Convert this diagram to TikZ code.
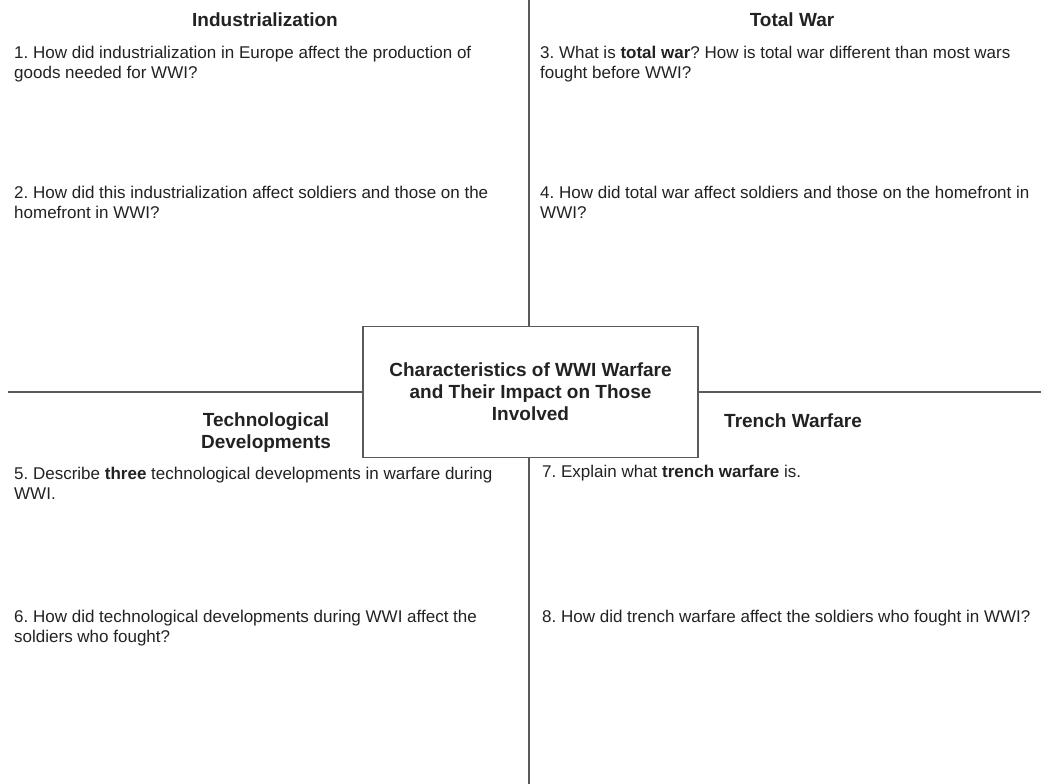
\documentclass[tikz,border=0pt]{standalone}
\usepackage{fontspec}
\setmainfont{Liberation Sans}
\frenchspacing
\definecolor{txt}{HTML}{222222}
\definecolor{rule}{HTML}{5A5A5A}
\tikzset{
  head/.style={font=\fontsize{19}{22}\selectfont\bfseries, text=txt, inner sep=0pt, align=center},
  question/.style={font=\fontsize{17}{19.5}\selectfont, text=txt, inner sep=0pt, align=left, anchor=north west},
  divider/.style={draw=rule, line width=1.4pt},
  centerbox/.style={draw=rule, line width=1.4pt, fill=white, minimum width=335pt, minimum height=131pt,
     font=\fontsize{19}{22}\selectfont\bfseries, text=txt, align=center, inner sep=0pt}
}
\begin{document}
\begin{tikzpicture}[x=1pt,y=-1pt]
\useasboundingbox[fill=white] (0,0) rectangle (1041,784);
% center box
\node[centerbox] (box) at (530.5,392) {Characteristics of WWI Warfare\\and Their Impact on Those\\Involved};
% divider ends
\coordinate (top) at (529,0);
\coordinate (bottom) at (529,784);
\coordinate (left) at (8,392);
\coordinate (right) at (1041,392);
\draw[divider] (top) -- (top |- box.north);
\draw[divider] (bottom) -- (bottom |- box.south);
\draw[divider] (left) -- (box.west);
\draw[divider] (box.east) -- (right);
% headings
\node[head, anchor=base] (hInd) at (265,27) {Industrialization};
\node[head, anchor=base] (hTot) at (792,27) {Total War};
\node[head, anchor=base] (hTre) at (793,427) {Trench Warfare};
\node[head, anchor=north] (hTec) at (266,413) {Technological\\Developments};
% questions
\node[question] (q1) at (14,46) {1. How did industrialization in Europe affect the production of\\goods needed for WWI?};
\node[question] (q2) at (14,186) {2. How did this industrialization affect soldiers and those on the\\homefront in WWI?};
\node[question] (q3) at (540,46) {3. What is \textbf{total war}? How is total war different than most wars\\fought before WWI?};
\node[question] (q4) at (540,186) {4. How did total war affect soldiers and those on the homefront in\\WWI?};
\node[question] (q5) at (14,467) {5. Describe \textbf{three} technological developments in warfare during\\WWI.};
\node[question] (q6) at (14,610) {6. How did technological developments during WWI affect the\\soldiers who fought?};
\node[question] (q7) at (542,465) {7. Explain what \textbf{trench warfare} is.};
\node[question] (q8) at (542,610) {8. How did trench warfare affect the soldiers who fought in WWI?};
\end{tikzpicture}
\end{document}
